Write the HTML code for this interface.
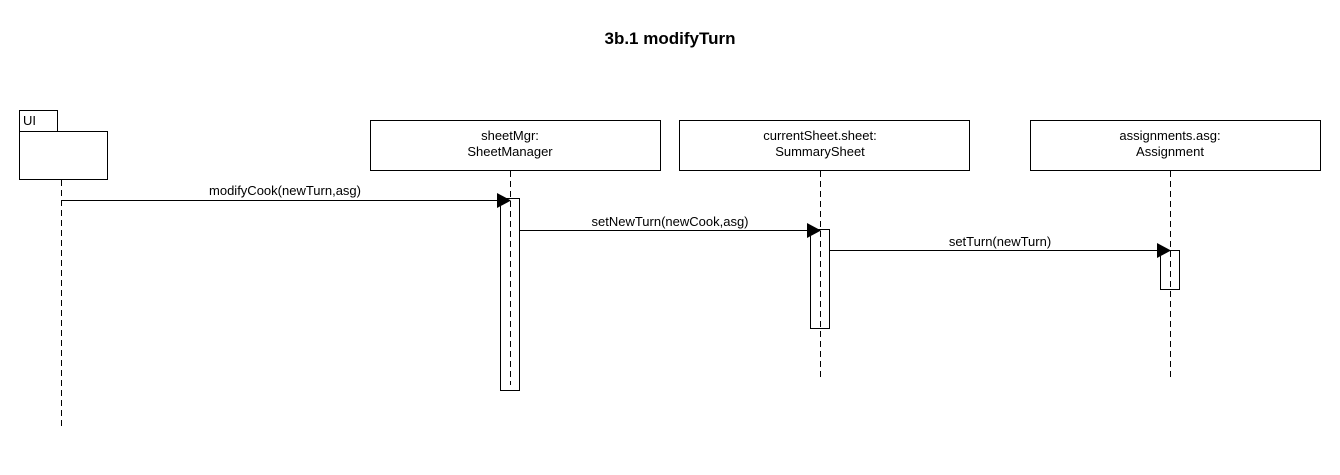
<!DOCTYPE html>
<html><head><style>body{margin:0;background:#fff}</style></head><body>
<svg width="1340" height="470" xmlns="http://www.w3.org/2000/svg" font-family="Liberation Sans, Arial, sans-serif">
<rect width="1340" height="470" fill="#fff"/>
<text x="670" y="44" text-anchor="middle" font-size="17" font-weight="bold">3b.1 modifyTurn</text>
<g fill="#fff" stroke="#000" stroke-width="1">
<rect x="19.5" y="110.5" width="38" height="21"/>
<rect x="19.5" y="131.5" width="88" height="48"/>
<rect x="370.5" y="120.5" width="290" height="50"/>
<rect x="679.5" y="120.5" width="290" height="50"/>
<rect x="1030.5" y="120.5" width="290" height="50"/>
</g>
<g font-size="13" text-anchor="middle">
<text x="23" y="125" text-anchor="start">UI</text>
<text x="510" y="140">sheetMgr:</text><text x="510" y="156">SheetManager</text>
<text x="820" y="140">currentSheet.sheet:</text><text x="820" y="156">SummarySheet</text>
<text x="1170" y="140">assignments.asg:</text><text x="1170" y="156">Assignment</text>
</g>
<g stroke="#000" stroke-dasharray="6,4">
<line x1="61.5" y1="180" x2="61.5" y2="430"/>
<line x1="510.5" y1="171" x2="510.5" y2="385"/>
<line x1="820.5" y1="171" x2="820.5" y2="380"/>
<line x1="1170.5" y1="171" x2="1170.5" y2="380"/>
</g>
<g fill="none" stroke="#000">
<rect x="500.5" y="198.5" width="19" height="192"/>
<rect x="810.5" y="229.5" width="19" height="99"/>
<rect x="1160.5" y="250.5" width="19" height="39"/>
</g>
<g stroke="#000">
<line x1="61" y1="200.5" x2="500" y2="200.5"/>
<line x1="520" y1="230.5" x2="810" y2="230.5"/>
<line x1="830" y1="250.5" x2="1160" y2="250.5"/>
</g>
<g fill="#000">
<polygon points="497,193 511,200.5 497,208"/>
<polygon points="807,223 821,230.5 807,238"/>
<polygon points="1157,243 1171,250.5 1157,258"/>
</g>
<g font-size="13" text-anchor="middle">
<text x="285" y="195">modifyCook(newTurn,asg)</text>
<text x="670" y="226">setNewTurn(newCook,asg)</text>
<text x="1000" y="246">setTurn(newTurn)</text>
</g>
</svg>
</body></html>
